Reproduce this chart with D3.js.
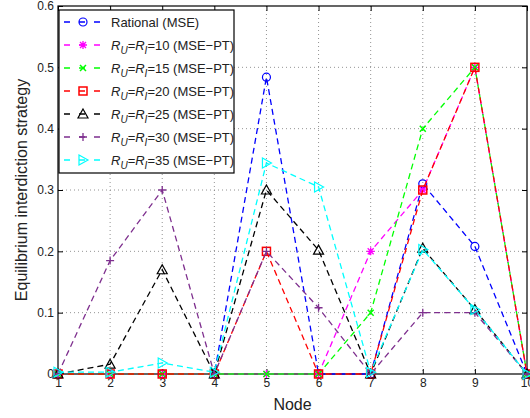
<!DOCTYPE html>
<html><head><meta charset="utf-8">
<script src="https://cdn.jsdelivr.net/npm/d3@7/dist/d3.min.js"></script>
<style>body{margin:0;background:#fff}svg{display:block}text{font-family:"Liberation Sans",Arial,sans-serif}</style>
</head><body>
<svg id="c" width="530" height="418"></svg>
<script>
const nodes = [1,2,3,4,5,6,7,8,9,10];
const yTicks = [0,0.1,0.2,0.3,0.4,0.5,0.6];
const rational = [0,0,0,0,0.484,0,0,0.31,0.208,0];
const r10 = [0,0,0,0,0,0,0.2,0.3,0.5,0];
const r15 = [0,0,0,0,0,0,0.1,0.4,0.5,0];
const r20 = [0,0,0,0,0.2,0,0,0.3,0.5,0];
const r25 = [0,0.016,0.17,0,0.3,0.202,0,0.205,0.105,0];
const r30 = [0,0.185,0.3,0,0.2,0.108,0,0.1,0.1,0];
const r35 = [0.003,0.003,0.018,0.003,0.344,0.305,0.003,0.203,0.105,0];
const seriesNames = ["Rational (MSE)","10","15","20","25","30","35"];
const seriesData = [rational,r10,r15,r20,r25,r30,r35];
const colors = ["#0000ff","#ff00ff","#00ff00","#ff0000","#000000","#7e2f8e","#00ffff"];
const markers = ["circle","asterisk","x","square","triup","plus","triright"];

const svg = d3.select("#c");
const L=58, R=527, T=6, B=374;
const x = d3.scaleLinear().domain([1,10]).range([L,R]);
const y = d3.scaleLinear().domain([0,0.6]).range([B,T]);

// grid
const g = svg.append("g");
g.selectAll(".gx").data(nodes.slice(1,-1)).join("line")
 .attr("x1",d=>x(d)).attr("x2",d=>x(d)).attr("y1",T).attr("y2",B)
 .attr("stroke","#777").attr("stroke-width",0.8).attr("stroke-dasharray","1,3");
g.selectAll(".gy").data(yTicks.slice(1,-1)).join("line")
 .attr("x1",L).attr("x2",R).attr("y1",d=>y(d)).attr("y2",d=>y(d))
 .attr("stroke","#777").attr("stroke-width",0.8).attr("stroke-dasharray","1,3");

// axes
const xa = svg.append("g").attr("transform",`translate(0,${B})`)
 .call(d3.axisBottom(x).tickValues(nodes).tickFormat(d3.format("d")).tickSizeInner(-5).tickSizeOuter(0).tickPadding(4));
const xa2 = svg.append("g").attr("transform",`translate(0,${T})`)
 .call(d3.axisTop(x).tickValues(nodes).tickFormat("").tickSizeInner(-5).tickSizeOuter(0));
const ya = svg.append("g").attr("transform",`translate(${L},0)`)
 .call(d3.axisLeft(y).tickValues(yTicks).tickFormat(d=>d===0?"0":d3.format(".1f")(d)).tickSizeInner(-5).tickSizeOuter(0).tickPadding(4));
const ya2 = svg.append("g").attr("transform",`translate(${R},0)`)
 .call(d3.axisRight(y).tickValues(yTicks).tickFormat("").tickSizeInner(-5).tickSizeOuter(0));
[xa,xa2,ya,ya2].forEach(a=>{a.select(".domain").remove();a.selectAll("line").attr("stroke","#000");a.selectAll("text").attr("font-size",12).attr("fill","#222").attr("font-family","Liberation Sans, Arial, sans-serif");});
svg.append("rect").attr("x",L).attr("y",T).attr("width",R-L).attr("height",B-T).attr("fill","none").attr("stroke","#000").attr("stroke-width",1.2);

function drawMarker(sel,type,cx,cy,col){
  const s=4;
  if(type==="circle") sel.append("circle").attr("cx",cx).attr("cy",cy).attr("r",s).attr("fill","none").attr("stroke",col).attr("stroke-width",1.2);
  else if(type==="square") sel.append("rect").attr("x",cx-s).attr("y",cy-s).attr("width",2*s).attr("height",2*s).attr("fill","none").attr("stroke",col).attr("stroke-width",1.5);
  else if(type==="triup") sel.append("path").attr("d",`M${cx},${cy-5}L${cx+5},${cy+4}L${cx-5},${cy+4}Z`).attr("fill","none").attr("stroke",col).attr("stroke-width",1.2);
  else if(type==="triright") sel.append("path").attr("d",`M${cx+5},${cy}L${cx-4},${cy-5}L${cx-4},${cy+5}Z`).attr("fill","none").attr("stroke",col).attr("stroke-width",1.2);
  else if(type==="plus") sel.append("path").attr("d",`M${cx-s},${cy}H${cx+s}M${cx},${cy-s}V${cy+s}`).attr("stroke",col).attr("stroke-width",1.3);
  else if(type==="x") sel.append("path").attr("d",`M${cx-3},${cy-3}L${cx+3},${cy+3}M${cx-3},${cy+3}L${cx+3},${cy-3}`).attr("stroke",col).attr("stroke-width",1.5);
  else if(type==="asterisk") sel.append("path").attr("d",`M${cx-s},${cy}H${cx+s}M${cx},${cy-s}V${cy+s}M${cx-3},${cy-3}L${cx+3},${cy+3}M${cx-3},${cy+3}L${cx+3},${cy-3}`).attr("stroke",col).attr("stroke-width",1.3);
}

const line = d3.line().x((d,i)=>x(nodes[i])).y(d=>y(d));
const plot = svg.append("g");
seriesData.forEach((data,k)=>{
  plot.append("path").datum(data).attr("d",line).attr("fill","none").attr("stroke",colors[k]).attr("stroke-width",1.3).attr("stroke-dasharray","6,4");
  data.forEach((v,i)=>drawMarker(plot,markers[k],x(nodes[i]),y(v),colors[k]));
});

// legend
const lg = svg.append("g");
lg.append("rect").attr("x",59).attr("y",10).attr("width",175).attr("height",163).attr("fill","#fff").attr("stroke","#000").attr("stroke-width",1.2);
seriesNames.forEach((nm,k)=>{
  const ly = 22 + k*23;
  lg.append("line").attr("x1",64).attr("x2",103).attr("y1",ly).attr("y2",ly).attr("stroke",colors[k]).attr("stroke-width",1.3).attr("stroke-dasharray","6,9");
  drawMarker(lg,markers[k],83,ly,colors[k]);
  const t = lg.append("text").attr("x",111).attr("y",ly+4.5).attr("font-size",13).attr("fill","#222");
  if(k===0){ t.text(nm); }
  else {
    t.append("tspan").attr("font-style","italic").text("R");
    t.append("tspan").attr("font-style","italic").attr("font-size",10).attr("dy",4).text("U");
    t.append("tspan").attr("dy",-4).text("=");
    t.append("tspan").attr("font-style","italic").text("R");
    t.append("tspan").attr("font-style","italic").attr("font-size",10).attr("dy",4).text("I");
    t.append("tspan").attr("dy",-4).text("="+nm+" (MSE\u2212PT)");
  }
});

svg.append("text").attr("x",x(5.5)).attr("y",410).attr("text-anchor","middle").attr("font-size",16).attr("fill","#222").text("Node");
svg.append("text").attr("transform",`translate(27,${(T+B)/2}) rotate(-90)`).attr("text-anchor","middle").attr("font-size",16).attr("fill","#222").text("Equilibrium interdiction strategy");
</script>
</body></html>
